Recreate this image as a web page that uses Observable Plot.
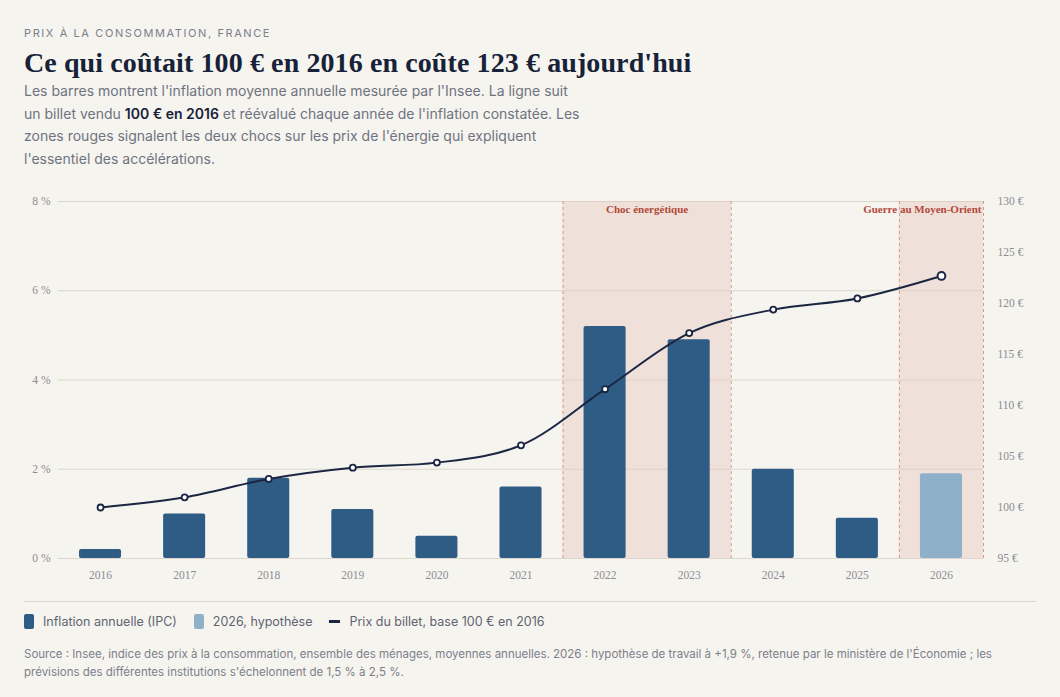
<!DOCTYPE html>
<html lang="fr">
<head>
<meta charset="utf-8">
<script src="https://cdn.jsdelivr.net/npm/d3@7"></script>
<script src="https://cdn.jsdelivr.net/npm/@observablehq/plot@0.6"></script>
<style>
  body { margin: 0; background: #f6f4ef; font-family: Inter, "Noto Sans", sans-serif; }
  #wrap { width: 1012px; padding: 0 24px; }
  .kicker { padding-top: 26px; font-size: 11px; letter-spacing: 1.6px; color: #7b808b; }
  h1 { margin: 6px 0 0 0; font-family: "Liberation Serif", "DejaVu Serif", serif; font-weight: bold;
       font-size: 28px; line-height: 34px; color: #172238; letter-spacing: 0.1px; }
  .desc { margin-top: 0; width: 560px; font-size: 14px; line-height: 22.5px; color: #6e7380; }
  .desc b { color: #172238; font-weight: 600; }
  #chart { margin-top: 19px; height: 403px; }
  .legend { border-top: 1px solid #dcd7cc; margin-top: 9px; padding-top: 12px; display: flex; gap: 17px;
            font-size: 12.5px; color: #5f6470; align-items: center; }
  .legend span { display: inline-flex; align-items: center; gap: 9px; }
  .sw { display: inline-block; width: 10px; height: 15px; border-radius: 2px; }
  .ln { display: inline-block; width: 11px; height: 3px; background: #1b2642; }
  .source { margin-top: 16px; font-size: 11.5px; line-height: 18px; color: #7b808b; padding-bottom: 20px;
            border-bottom: 1px solid #dcd7cc; }
</style>
</head>
<body>
<div id="wrap">
  <div class="kicker">PRIX À LA CONSOMMATION, FRANCE</div>
  <h1>Ce qui coûtait 100 € en 2016 en coûte 123 € aujourd'hui</h1>
  <div class="desc">Les barres montrent l'inflation moyenne annuelle mesurée par l'Insee. La ligne suit un billet vendu <b>100 € en 2016</b> et réévalué chaque année de l'inflation constatée. Les zones rouges signalent les deux chocs sur les prix de l'énergie qui expliquent l'essentiel des accélérations.</div>
  <div id="chart"></div>
  <div class="legend">
    <span><i class="sw" style="background:#2f5c84"></i>Inflation annuelle (IPC)</span>
    <span><i class="sw" style="background:#8fb0c9"></i>2026, hypothèse</span>
    <span><i class="ln"></i>Prix du billet, base 100 € en 2016</span>
  </div>
  <div class="source">Source : Insee, indice des prix à la consommation, ensemble des ménages, moyennes annuelles. 2026 : hypothèse de travail à +1,9 %, retenue par le ministère de l'Économie ; les prévisions des différentes institutions s'échelonnent de 1,5 % à 2,5 %.</div>
</div>
<script>
const years = [2016, 2017, 2018, 2019, 2020, 2021, 2022, 2023, 2024, 2025, 2026]
const inflation = [0.2, 1.0, 1.8, 1.1, 0.5, 1.6, 5.2, 4.9, 2.0, 0.9, 1.9]
const ticket = [100, 101.0, 102.8, 103.9, 104.4, 106.1, 111.6, 117.1, 119.4, 120.5, 122.7]
const hypothesisYear = 2026

const shockLabels = ['Choc énergétique', 'Guerre au Moyen-Orient']
const shockStart = [2022, 2026]
const shockEnd = [2023, 2026]

const pctTicks = [0, 2, 4, 6, 8]
const euroTicks = [95, 100, 105, 110, 115, 120, 125, 130]

const data = years.map((year, i) => ({year, inflation: inflation[i], ticket: ticket[i]}))
const shocks = shockLabels.map((label, i) => ({label, start: shockStart[i], end: shockEnd[i]}))

// the euro axis is drawn on the % scale: 95 € -> 0 %, 130 € -> 8 %
const toPct = v => (v - 95) * 8 / 35
const fromPct = p => Math.round(p * 35 / 8 + 95)

const dark = '#2f5c84', light = '#8fb0c9', navy = '#1b2642', red = '#b24a39'
const serif = "'Liberation Serif', 'DejaVu Serif', serif"

let chart = Plot.plot({
  width: 1012,
  height: 403,
  marginTop: 12,
  marginBottom: 34,
  marginLeft: 34,
  marginRight: 53,
  style: {background: 'transparent', fontFamily: serif, fontSize: '11.5px', color: '#8b8d92'},
  x: {domain: [2015.5, 2026.5], label: null},
  y: {domain: [0, 8], label: null},
  marks: [
    Plot.gridY(pctTicks, {stroke: '#dcd7cd', strokeOpacity: 1}),
    Plot.rect(shocks, {x1: d => d.start - 0.5, x2: d => d.end + 0.5, y1: 0, y2: 8, fill: '#e6c4b8', fillOpacity: 0.4}),
    Plot.ruleX(shocks, {x: d => d.start - 0.5, y1: 0, y2: 8, stroke: '#d69a8b', strokeDasharray: '3,3'}),
    Plot.ruleX(shocks, {x: d => d.end + 0.5, y1: 0, y2: 8, stroke: '#d69a8b', strokeDasharray: '3,3'}),
    Plot.rectY(data, {
      x1: d => d.year - 0.25, x2: d => d.year + 0.25, y: 'inflation', rx: 2,
      fill: d => d.year === hypothesisYear ? light : dark
    }),
    Plot.line(data, {x: 'year', y: d => toPct(d.ticket), curve: 'monotone-x', stroke: navy, strokeWidth: 2}),
    Plot.dot(data, {
      x: 'year', y: d => toPct(d.ticket), r: d => d.year === hypothesisYear ? 5.5 : 3.3,
      fill: 'white', stroke: navy, strokeWidth: d => d.year === hypothesisYear ? 2 : 1.8
    }),
    Plot.text(shocks.slice(0, 1), {
      x: d => (d.start + d.end) / 2, y: 8, dy: 8, text: 'label',
      fill: red, fontWeight: 'bold', fontFamily: serif, fontSize: 11
    }),
    Plot.text(shocks.slice(1), {
      x: d => d.end + 0.5, y: 8, dy: 8, dx: -2, textAnchor: 'end', text: 'label',
      fill: red, fontWeight: 'bold', fontFamily: serif, fontSize: 11
    }),
    Plot.axisY(pctTicks, {anchor: 'left', tickSize: 0, tickPadding: 8, tickFormat: d => `${d}\u00a0%`}),
    Plot.axisY(euroTicks.map(toPct), {anchor: 'right', tickSize: 0, tickPadding: 14, tickFormat: d => `${fromPct(d)}\u00a0€`}),
    Plot.axisX(years, {tickSize: 0, tickPadding: 12, tickFormat: d => String(d)}),
  ],
})

d3.select('#chart').append(() => chart)
</script>
</body>
</html>
